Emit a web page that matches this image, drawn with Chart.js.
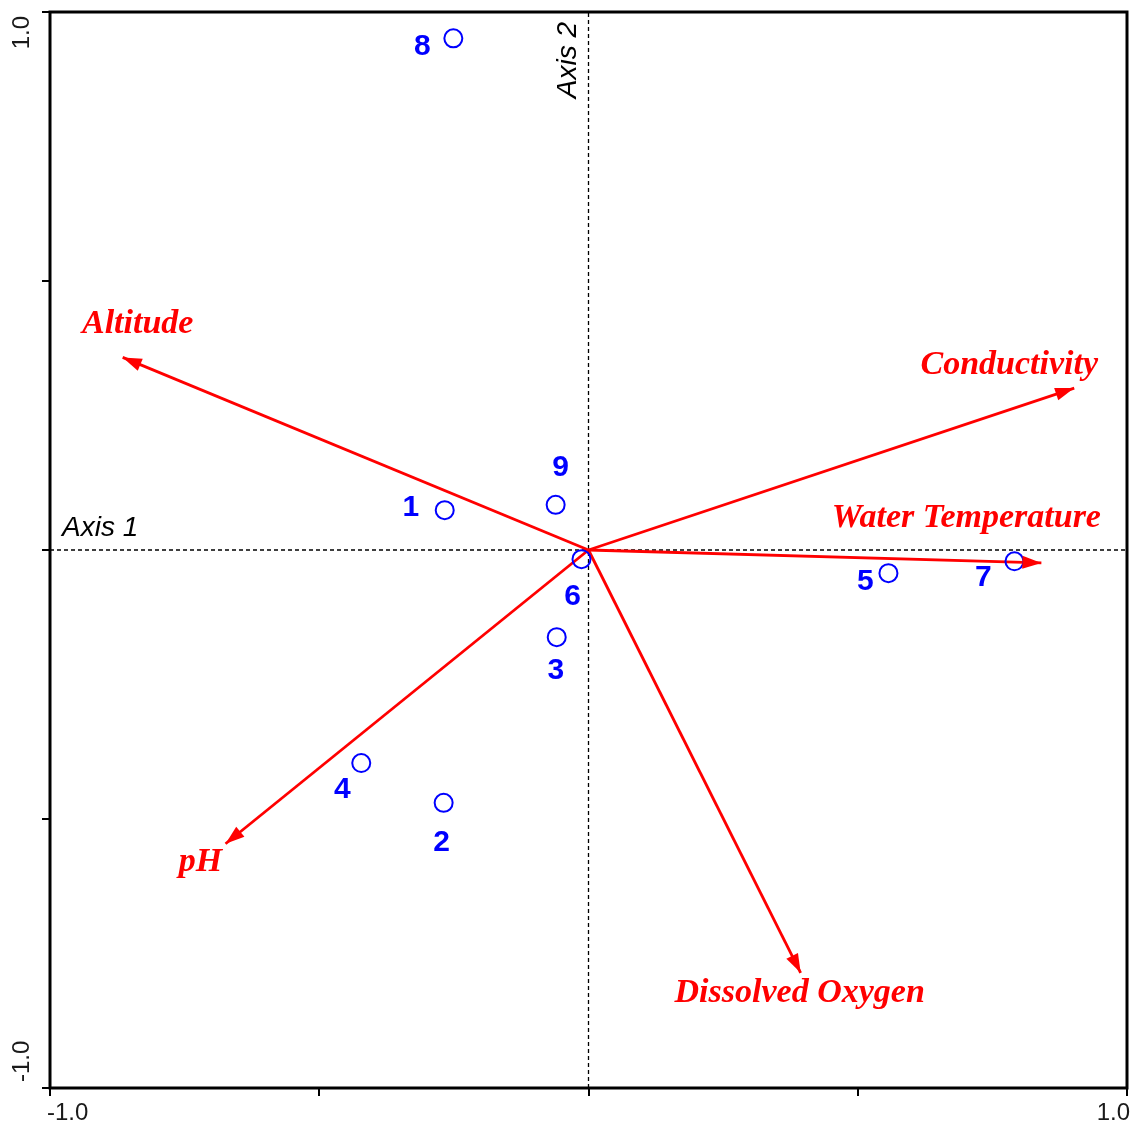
<!DOCTYPE html>
<html>
<head>
<meta charset="utf-8">
<script src="https://cdn.jsdelivr.net/npm/chart.js@4.4.1/dist/chart.umd.min.js"></script>
<style>
    html, body { margin: 0; padding: 0; background: #fff; overflow: hidden; }
    #biplot { display: block; }
</style>
</head>
<body>
<canvas id="biplot" width="1132" height="1125"></canvas>
<script>
// --- Data ---
const siteNames = ['1', '2', '3', '4', '5', '6', '7', '8', '9'];
const siteX = [-0.267, -0.269, -0.059, -0.422, 0.557, -0.013, 0.791, -0.251, -0.061];
const siteY = [0.074, -0.470, -0.162, -0.396, -0.043, -0.017, -0.021, 0.951, 0.084];

const varNames = ['Altitude', 'Conductivity', 'Water Temperature', 'pH', 'Dissolved Oxygen'];
const varX = [-0.865, 0.902, 0.841, -0.674, 0.394];
const varY = [0.358, 0.301, -0.024, -0.546, -0.786];

const axisTicks = [-1.0, 1.0];
const axisNames = ['Axis 1', 'Axis 2'];

// label placement (pixels from the mark)
const siteLabelShift = [[-34, -2], [-2, 40], [-1, 34], [-19, 27], [-23, 9], [-9, 38], [-31, 16], [-31, 8], [5, -37]];
const varLabelShift = [[15, -33], [-65, -23], [-75, -45], [-25, 18], [-1, 20]];

const RED = '#ff0000';
const BLUE = '#0000ff';

// --- Datasets ---
const datasets = [];

datasets.push({
    type: 'scatter',
    label: 'sites',
    data: siteX.map((x, i) => ({ x: x, y: siteY[i] })),
    pointStyle: 'circle',
    pointRadius: 9,
    pointBorderWidth: 2,
    borderColor: BLUE,
    backgroundColor: 'rgba(0,0,0,0)',
    order: 0
});

varNames.forEach((name, i) => {
    datasets.push({
        type: 'line',
        label: name,
        data: [{ x: 0, y: 0 }, { x: varX[i], y: varY[i] }],
        borderColor: RED,
        borderWidth: 2.8,
        pointRadius: 0,
        fill: false,
        order: 1
    });
});

// dashed zero lines
datasets.push({
    type: 'line', label: 'h0',
    data: [{ x: -1, y: 0 }, { x: 1, y: 0 }],
    borderColor: '#000', borderWidth: 1.3, borderDash: [4, 3], pointRadius: 0, order: 2
});
datasets.push({
    type: 'line', label: 'v0',
    data: [{ x: 0, y: -1 }, { x: 0, y: 1 }],
    borderColor: '#000', borderWidth: 1.3, borderDash: [4, 3], pointRadius: 0, order: 2
});

// --- Plugin: frame, arrowheads, texts ---
const biplotDecor = {
    id: 'biplotDecor',
    afterDatasetsDraw(chart) {
        const ctx = chart.ctx;
        const xs = chart.scales.x, ys = chart.scales.y;
        const ox = xs.getPixelForValue(0), oy = ys.getPixelForValue(0);
        ctx.save();
        ctx.fillStyle = RED;
        varNames.forEach((name, i) => {
            const tx = xs.getPixelForValue(varX[i]);
            const ty = ys.getPixelForValue(varY[i]);
            const a = Math.atan2(ty - oy, tx - ox);
            const len = 19, half = 6.5;
            ctx.beginPath();
            ctx.moveTo(tx, ty);
            ctx.lineTo(tx - len * Math.cos(a) + half * Math.sin(a), ty - len * Math.sin(a) - half * Math.cos(a));
            ctx.lineTo(tx - len * Math.cos(a) - half * Math.sin(a), ty - len * Math.sin(a) + half * Math.cos(a));
            ctx.closePath();
            ctx.fill();
        });
        ctx.restore();
    },
    afterDraw(chart) {
        const ctx = chart.ctx;
        const area = chart.chartArea;
        const xs = chart.scales.x, ys = chart.scales.y;
        ctx.save();

        // frame
        ctx.strokeStyle = '#000';
        ctx.lineWidth = 3;
        ctx.strokeRect(area.left, area.top, area.right - area.left, area.bottom - area.top);

        // tick labels
        ctx.fillStyle = '#1a1a1a';
        ctx.font = '24px "Liberation Sans", Arial, sans-serif';
        ctx.textBaseline = 'top';
        axisTicks.forEach(v => {
            const px = xs.getPixelForValue(v);
            ctx.textAlign = v < 0 ? 'left' : 'right';
            ctx.fillText(v.toFixed(1), v < 0 ? px - 3 : px + 3, area.bottom + 13);
        });
        axisTicks.forEach(v => {
            const py = ys.getPixelForValue(v);
            ctx.save();
            ctx.translate(10, py);
            ctx.rotate(-Math.PI / 2);
            ctx.textAlign = v < 0 ? 'left' : 'right';
            ctx.textBaseline = 'top';
            ctx.fillText(v.toFixed(1), v < 0 ? 6 : -4, 0);
            ctx.restore();
        });

        // axis names
        const ox = xs.getPixelForValue(0), oy = ys.getPixelForValue(0);
        ctx.fillStyle = '#000';
        ctx.font = 'italic 28px "Liberation Sans", Arial, sans-serif';
        ctx.textAlign = 'left';
        ctx.textBaseline = 'alphabetic';
        ctx.fillText(axisNames[0], area.left + 12, oy - 14);
        ctx.save();
        ctx.translate(ox - 13, area.top + 10);
        ctx.rotate(-Math.PI / 2);
        ctx.textAlign = 'right';
        ctx.fillText(axisNames[1], 0, 0);
        ctx.restore();

        // environmental variable names
        ctx.fillStyle = RED;
        ctx.font = 'italic bold 34px "Liberation Serif", "Times New Roman", serif';
        ctx.textAlign = 'center';
        ctx.textBaseline = 'middle';
        varNames.forEach((name, i) => {
            const tx = xs.getPixelForValue(varX[i]);
            const ty = ys.getPixelForValue(varY[i]);
            ctx.fillText(name, tx + varLabelShift[i][0], ty + varLabelShift[i][1]);
        });

        // site numbers
        ctx.fillStyle = BLUE;
        ctx.font = 'bold 30px "Liberation Sans", Arial, sans-serif';
        siteNames.forEach((name, i) => {
            const px = xs.getPixelForValue(siteX[i]);
            const py = ys.getPixelForValue(siteY[i]);
            ctx.fillText(name, px + siteLabelShift[i][0], py + siteLabelShift[i][1]);
        });

        ctx.restore();
    }
};

// --- Chart ---
const axisStyle = {
    type: 'linear',
    min: -1,
    max: 1,
    ticks: { stepSize: 0.5, display: false },
    grid: { drawOnChartArea: false, drawTicks: true, tickLength: 8, color: '#000', lineWidth: 2 },
    border: { display: false }
};

new Chart(document.getElementById('biplot'), {
    type: 'scatter',
    data: { datasets: datasets },
    options: {
        responsive: false,
        animation: false,
        layout: { autoPadding: false, padding: { left: 42, top: 12, right: 5, bottom: 29 } },
        plugins: { legend: { display: false }, tooltip: { enabled: false } },
        scales: {
            x: Object.assign({ position: 'bottom' }, axisStyle),
            y: Object.assign({ position: 'left' }, axisStyle)
        }
    },
    plugins: [biplotDecor]
});
</script>
</body>
</html>
